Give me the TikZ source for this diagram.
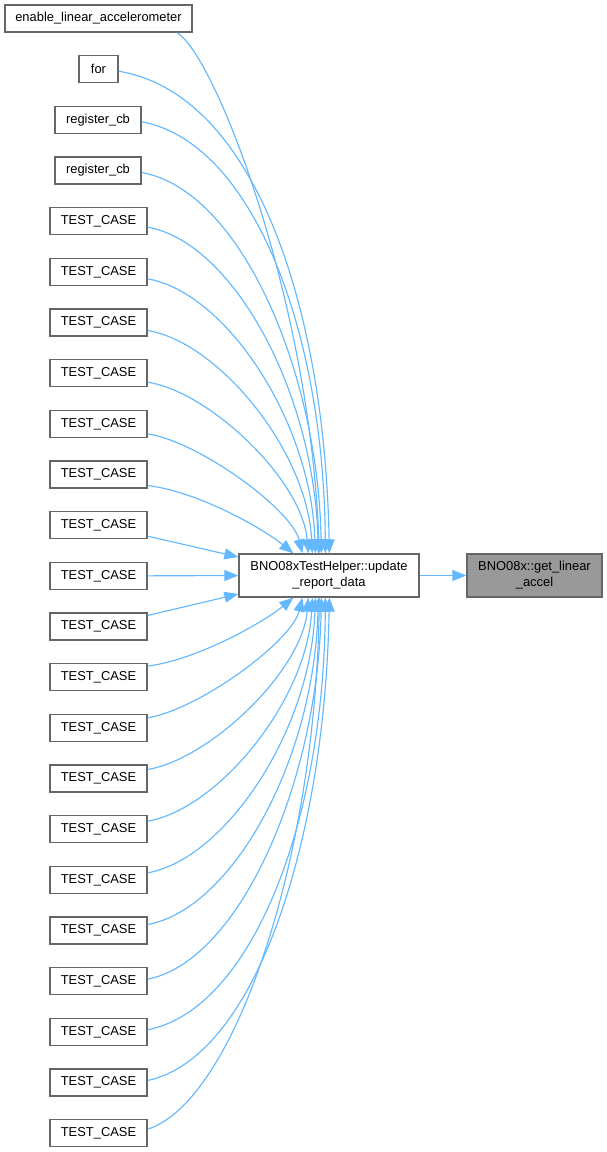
\documentclass[tikz,border=0pt]{standalone}
\usepackage{fontspec}
\setmainfont{Liberation Sans}
\usetikzlibrary{arrows.meta}
\definecolor{edgeblue}{HTML}{63B8FF}
\definecolor{boxline}{HTML}{666666}
\definecolor{hlfill}{HTML}{999999}
\begin{document}
\begin{tikzpicture}[x=1pt,y=-1pt,
  box/.style={draw=boxline, line width=1.3pt, fill=white, minimum height=27pt, inner sep=0pt, font=\fontsize{12.9}{16}\selectfont},
  bigbox/.style={box, minimum height=43pt, align=center},
  edge/.style={draw=edgeblue, line width=1.15pt, -{Triangle[length=14pt,width=11pt]}}]
\useasboundingbox (0,0) rectangle (607,1152);
% left column
\node[box, minimum width=187pt] (n0) at (98.5,18.5) {enable\_linear\_accelerometer};
\node[box, minimum width=39pt] (n1) at (98.5,69.2) {for};
\node[box, minimum width=86pt] (n2) at (98,119.8) {register\_cb};
\node[box, minimum width=86pt] (n3) at (98,170.5) {register\_cb};
\foreach \k in {4,...,22} {
  \node[box, minimum width=97pt] (n\k) at (98.5,18.5+50.667*\k) {TEST\_CASE};
}
\node[bigbox, minimum width=180pt] (c) at (329,575.5) {BNO08xTestHelper::update\\\_report\_data};
\node[bigbox, minimum width=135pt, fill=hlfill] (t) at (534.5,575.5) {BNO08x::get\_linear\\\_accel};
% upper edges
\draw[edge] ([xshift=78.5pt]n0.south) .. controls (215,55) and (310,300) .. ([xshift=81pt]c.north west);
\draw[edge] ([yshift=-2pt]n1.east) .. controls (256,94) and (325,311) .. ([xshift=91pt]c.north west);
\draw[edge] ([yshift=-2pt]n2.east) .. controls (252,142) and (324,330) .. ([xshift=87pt]c.north west);
\draw[edge] ([yshift=-2pt]n3.east) .. controls (240,190) and (318,370) .. ([xshift=83pt]c.north west);
\draw[edge] ([yshift=-6pt]n4.east) .. controls (232,242) and (314,390) .. ([xshift=80pt]c.north west);
\draw[edge] ([yshift=-7pt]n5.east) .. controls (225,292) and (311,420) .. ([xshift=77pt]c.north west);
\draw[edge] ([yshift=-8pt]n6.east) .. controls (218,342) and (307,450) .. ([xshift=74pt]c.north west);
\draw[edge] ([yshift=-9pt]n7.east) .. controls (210,392) and (302,480) .. ([xshift=70pt]c.north west);
\draw[edge] ([yshift=-10pt]n8.east) .. controls (200,442) and (292,510) .. ([xshift=64pt]c.north west);
\draw[edge] ([yshift=-11pt]n9.east) .. controls (200,492) and (265,530) .. ([xshift=55pt]c.north west);
\draw[edge] ([yshift=-11pt]n10.east) -- ([yshift=18.5pt]c.west);
\draw[edge] (n11.east) -- (c.west);
\draw[edge] ([yshift=11pt]n12.east) -- ([yshift=-18.5pt]c.west);
% lower edges
\draw[edge] ([yshift=11pt]n13.east) .. controls (200,659) and (265,621) .. ([xshift=55pt]c.south west);
\draw[edge] ([yshift=10pt]n14.east) .. controls (200,709) and (292,641) .. ([xshift=64pt]c.south west);
\draw[edge] ([yshift=9pt]n15.east) .. controls (210,759) and (302,671) .. ([xshift=70pt]c.south west);
\draw[edge] ([yshift=8pt]n16.east) .. controls (218,809) and (307,701) .. ([xshift=74pt]c.south west);
\draw[edge] ([yshift=7pt]n17.east) .. controls (225,859) and (311,731) .. ([xshift=77pt]c.south west);
\draw[edge] ([yshift=6pt]n18.east) .. controls (232,909) and (314,761) .. ([xshift=80pt]c.south west);
\draw[edge] ([yshift=2pt]n19.east) .. controls (240,961) and (318,781) .. ([xshift=83pt]c.south west);
\draw[edge] ([yshift=2pt]n20.east) .. controls (252,1009) and (324,821) .. ([xshift=87pt]c.south west);
\draw[edge] ([yshift=2pt]n21.east) .. controls (256,1057) and (325,840) .. ([xshift=91pt]c.south west);
\draw[edge] ([yshift=4pt]n22.east) .. controls (233,1102) and (315,863) .. ([xshift=81pt]c.south west);
% to target
\draw[edge] (c.east) -- (t.west);
\end{tikzpicture}
\end{document}
